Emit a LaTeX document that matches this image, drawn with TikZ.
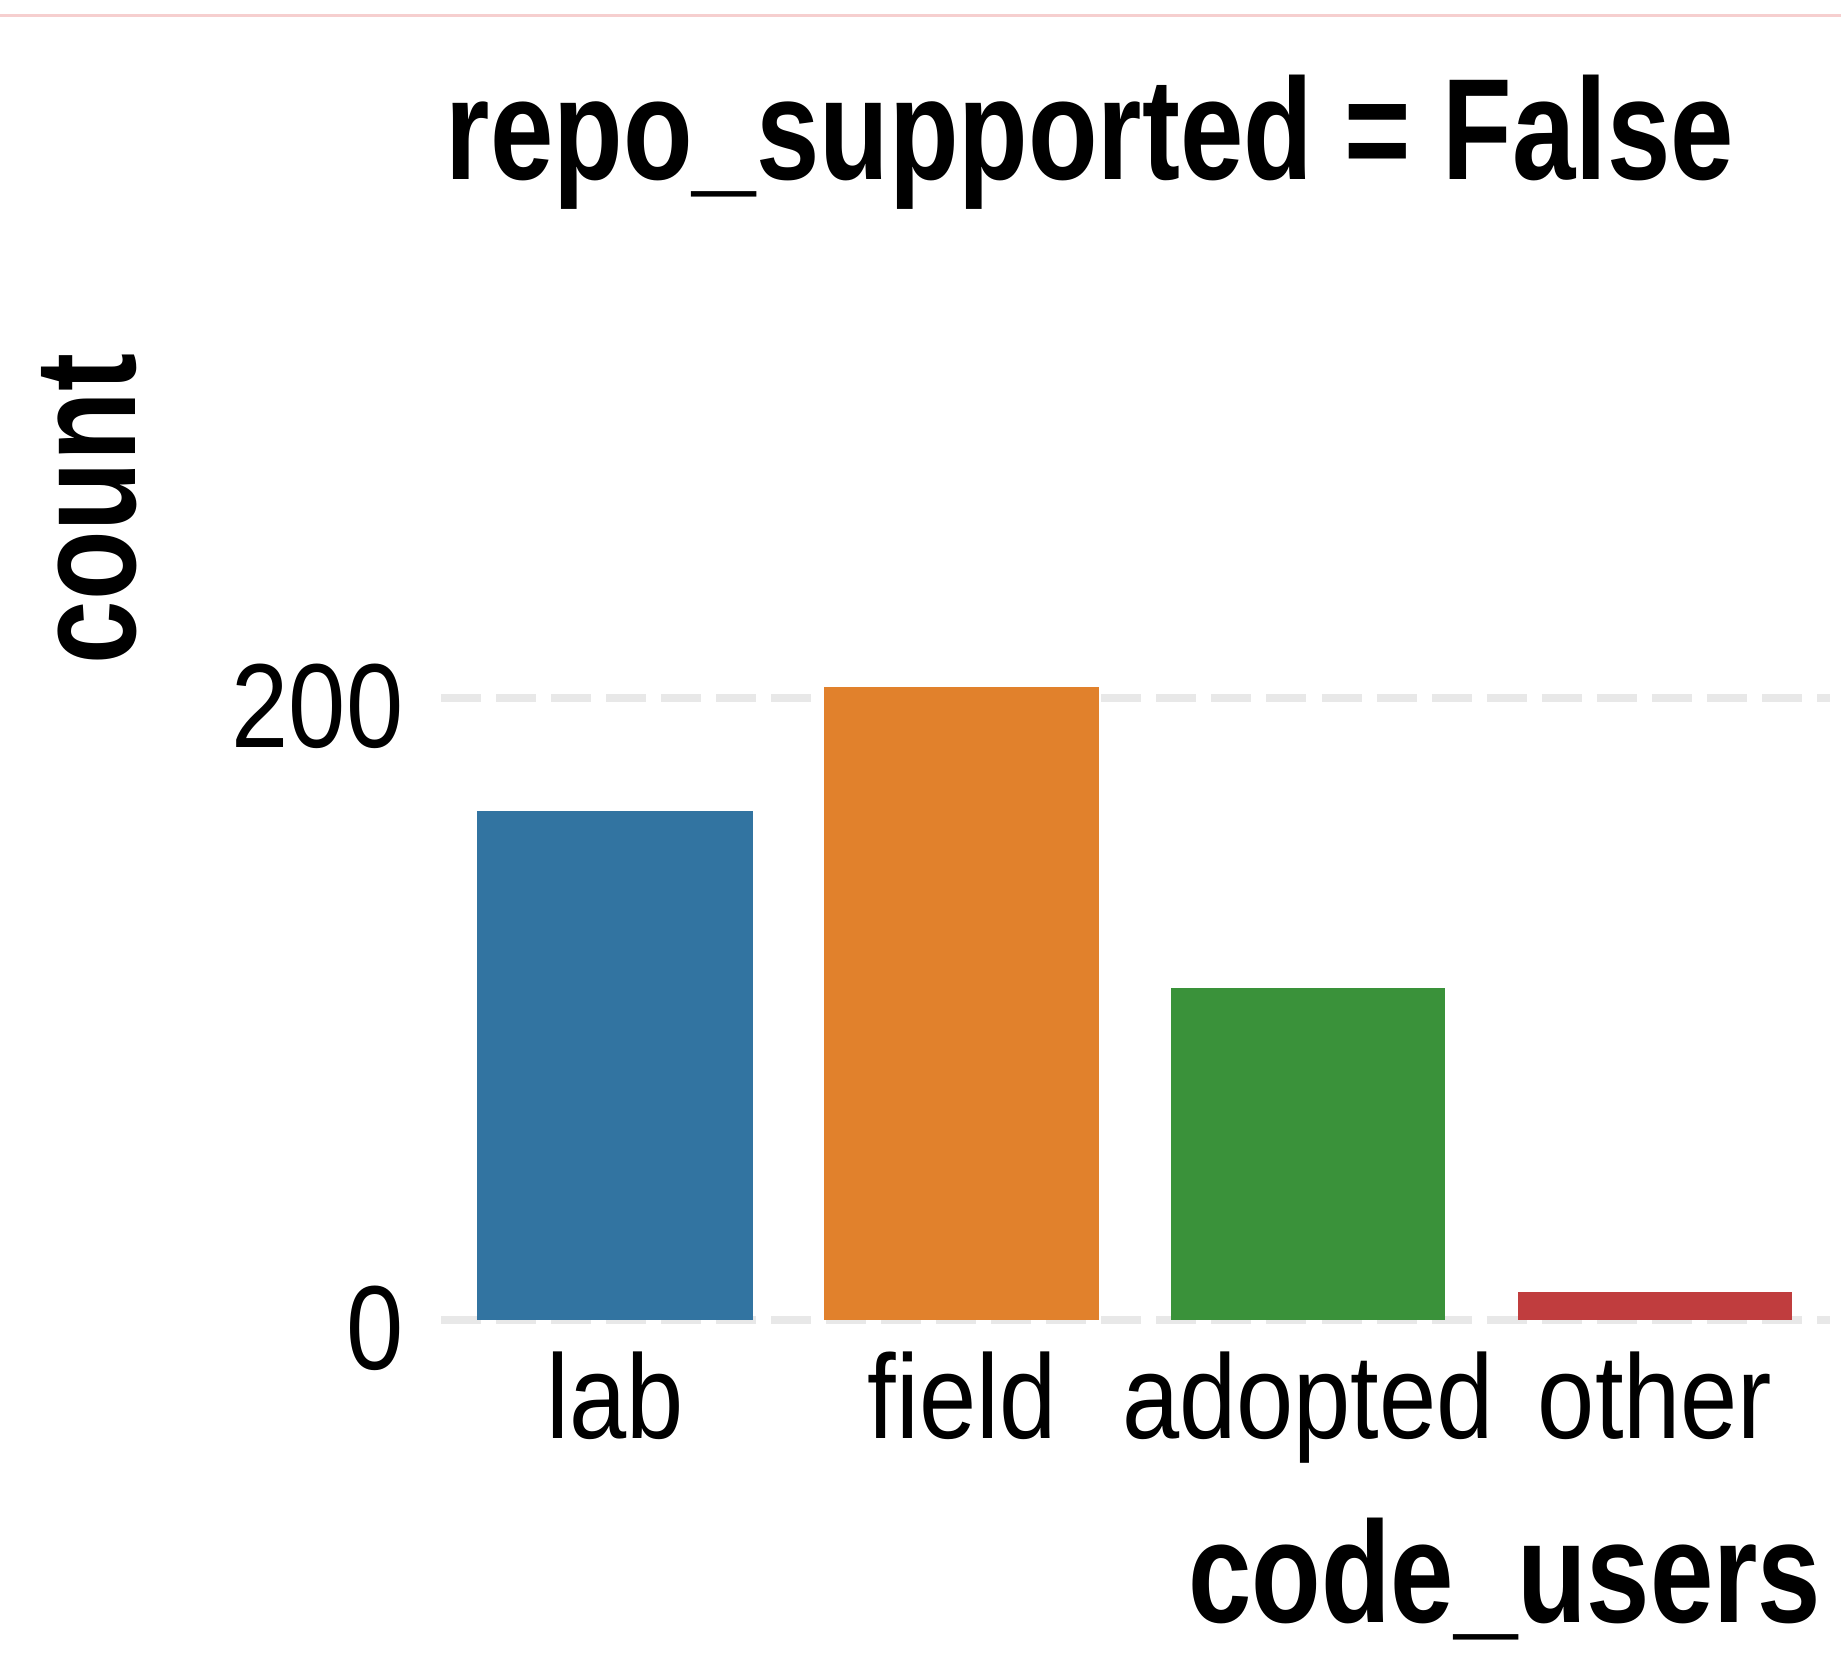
\documentclass[tikz,border=0pt]{standalone}
\usepackage{fontspec}
\setmainfont{Liberation Sans}[FakeStretch=0.86]
\newfontfamily\labelfont{Liberation Sans}[FakeStretch=0.79]
\definecolor{barblue}{HTML}{3274A1}
\definecolor{barorange}{HTML}{E1812C}
\definecolor{bargreen}{HTML}{3A923A}
\definecolor{barred}{HTML}{C03D3E}
\definecolor{gridgray}{HTML}{E8E8E8}
\definecolor{rulepink}{HTML}{F6CFCF}
\tikzset{
  ticklabel/.style={font=\fontsize{34}{38}\selectfont,inner sep=0pt},
  axlabel/.style={font=\labelfont\bfseries\fontsize{41}{46}\selectfont,inner sep=0pt},
  gridline/.style={gridgray,line width=0.08cm,dash pattern=on 0.4cm off 0.15cm},
}
\begin{document}
\begin{tikzpicture}[x=0.01cm,y=-0.01cm]
  \useasboundingbox (0,0) rectangle (1845,1655);
  \draw[rulepink,line width=0.03cm] (0,16) -- (1841,16);
  % grid
  \draw[gridline] (441,1320) -- (1830,1320);
  \draw[gridline] (441,698) -- (1830,698);
  % bars
  \fill[barblue] (477,1320) rectangle (753,811);
  \fill[barorange] (824,1320) rectangle (1099,687);
  \fill[bargreen] (1171,1320) rectangle (1445,988);
  \fill[barred] (1518,1320) rectangle (1792,1292);
  % ticks
  \node[ticklabel,anchor=base east] (y0) at (404,1369) {0};
  \node[ticklabel,anchor=base east] (y200) at (404,747) {200};
  \node[ticklabel,anchor=base] (lab) at (615,1438) {lab};
  \node[ticklabel,anchor=base] (field) at (962,1438) {field};
  \node[ticklabel,anchor=base] (adopted) at (1308,1438) {adopted};
  \node[ticklabel,anchor=base] (other) at (1655,1438) {other};
  % labels
  \node[axlabel,anchor=base] (title) at (1090,180) {repo\_supported = False};
  \node[axlabel,anchor=base,rotate=90] (count) at (135,509) {count};
  \node[axlabel,anchor=base east] (users) at (1822,1622) {code\_users};
\end{tikzpicture}
\end{document}
